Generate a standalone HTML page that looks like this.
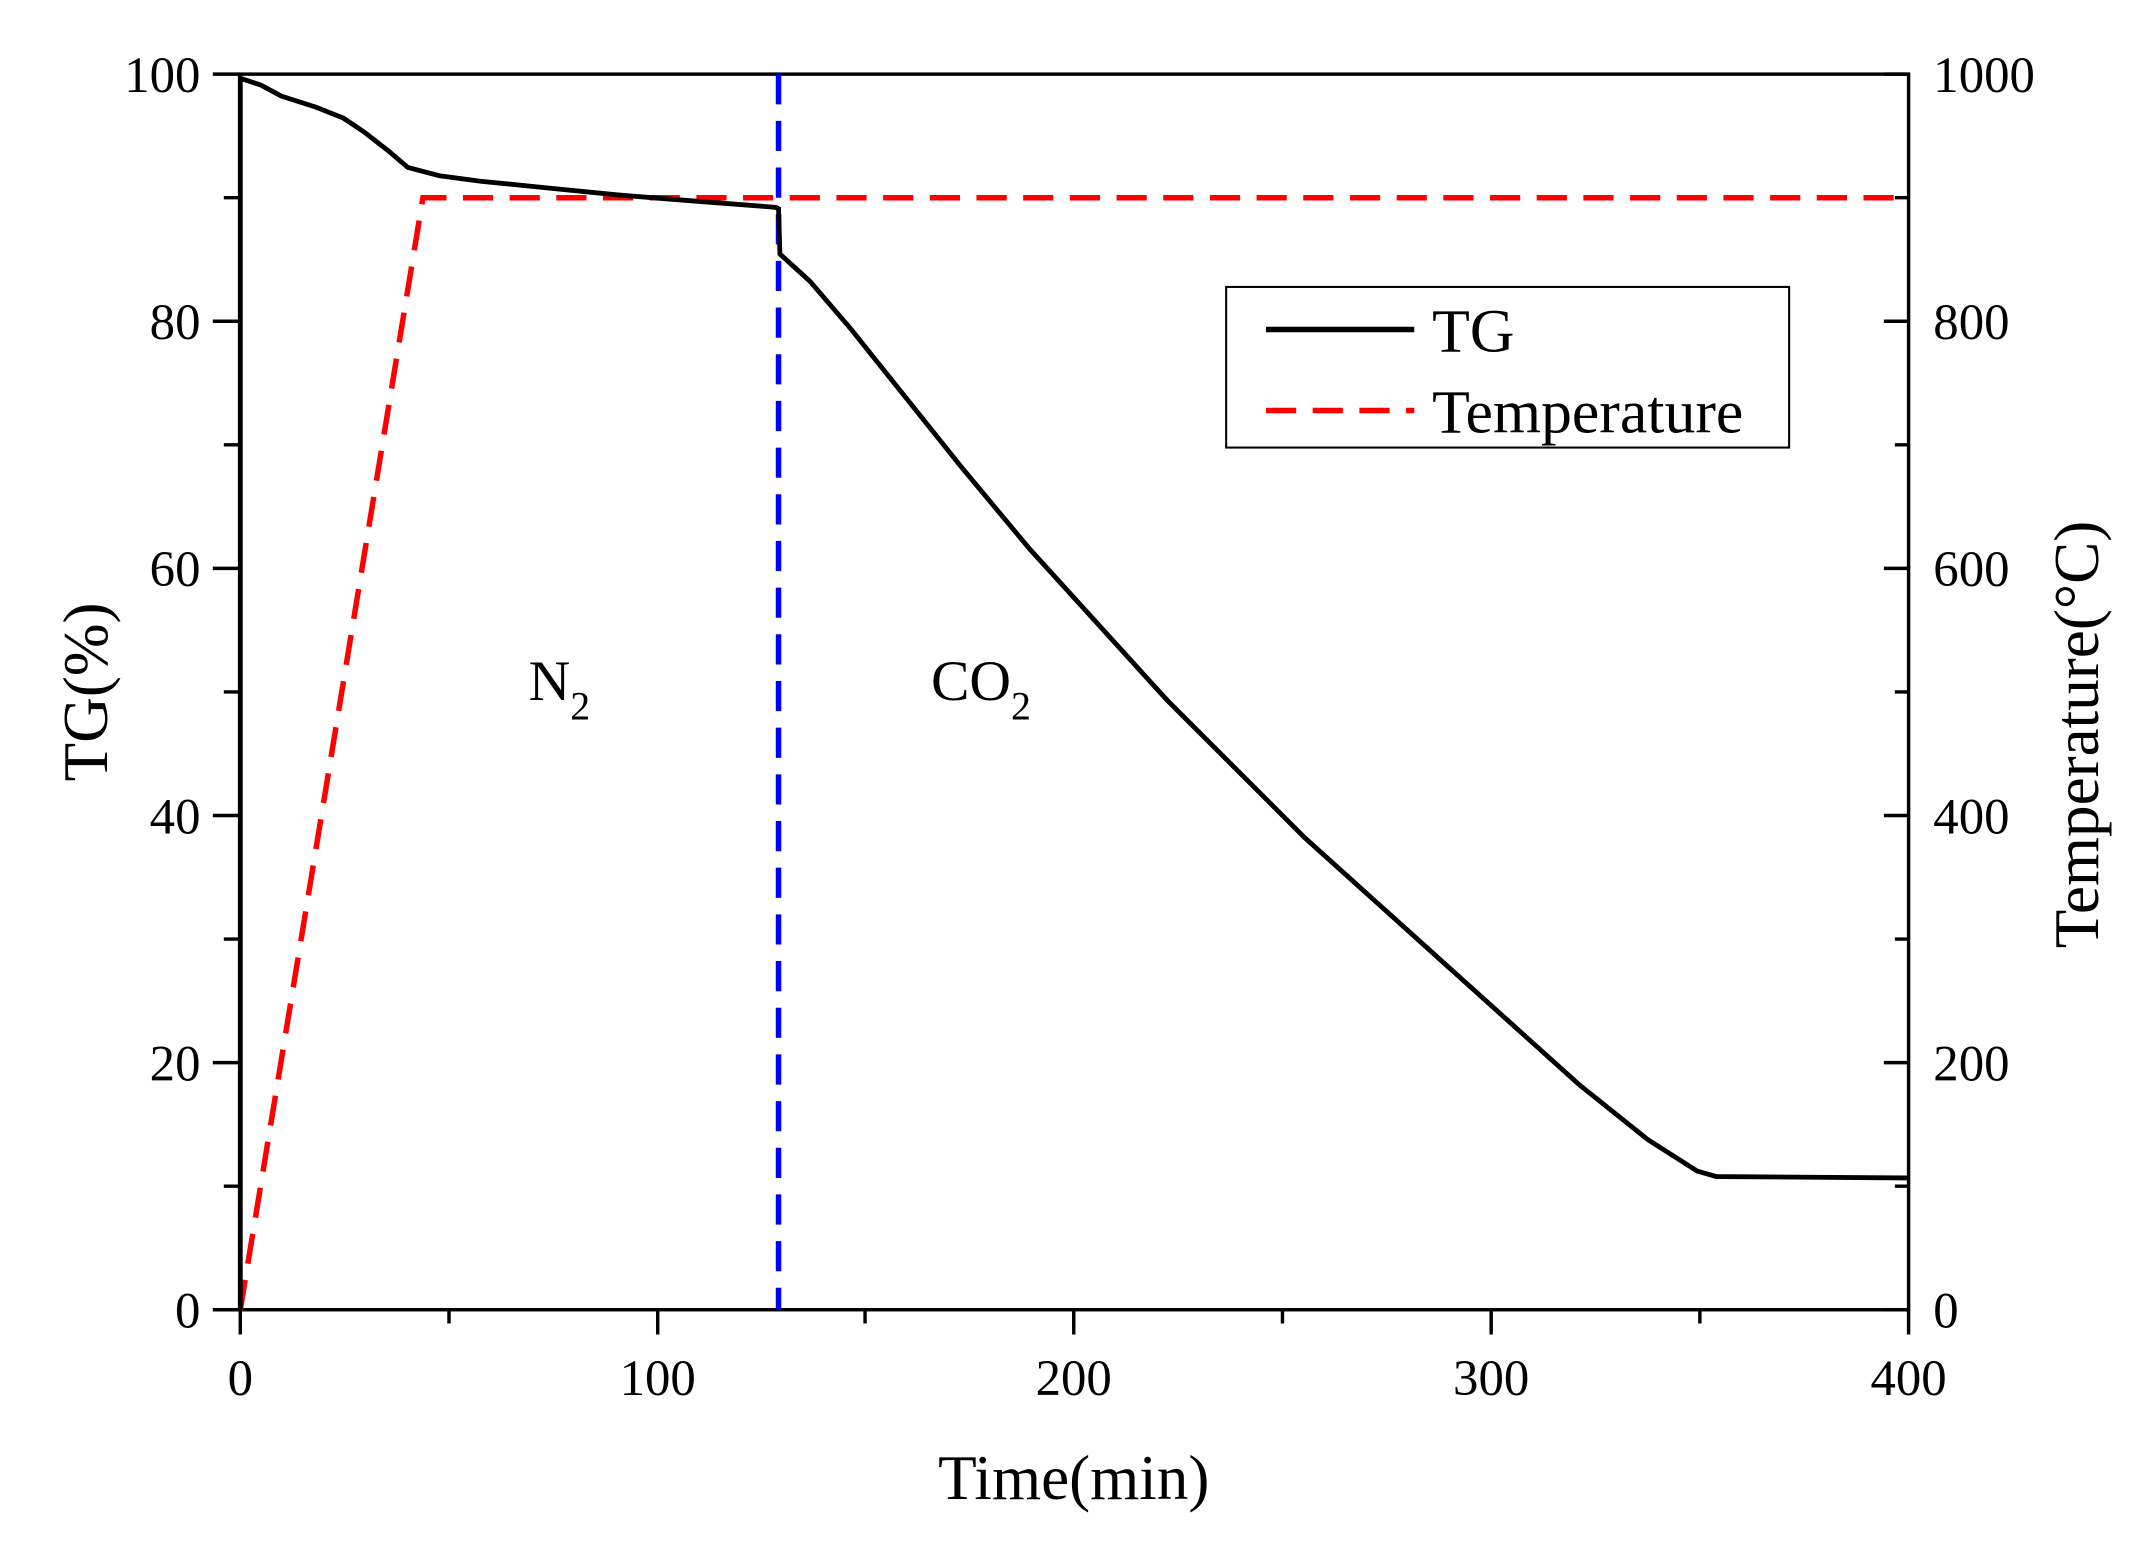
<!DOCTYPE html>
<html><head><style>html,body{margin:0;padding:0;background:#fff}svg{display:block}</style></head>
<body>
<svg width="2153" height="1550" viewBox="0 0 1568 1129" preserveAspectRatio="none" xmlns="http://www.w3.org/2000/svg" font-family="Liberation Serif, serif">
<rect width="1568" height="1129" fill="#fff"/>
<g stroke="#000" stroke-width="2.5" fill="none">
<rect x="175" y="54" width="1215" height="900"/>
<path d="M155 954H175M155 774H175M155 594H175M155 414H175M155 234H175M155 54H175M163 864H175M163 684H175M163 504H175M163 324H175M163 144H175"/>
<path d="M1372 954H1390M1372 774H1390M1372 594H1390M1372 414H1390M1372 234H1390M1372 54H1390M1380 864H1390M1380 684H1390M1380 504H1390M1380 324H1390M1380 144H1390"/>
<path d="M175 954V972M479 954V972M782 954V972M1086 954V972M1390 954V972M327 954V964M630 954V964M934 954V964M1238 954V964"/>
</g>
<g font-size="37" text-anchor="end">
<text x="146" y="967">0</text><text x="146" y="787">20</text><text x="146" y="607">40</text><text x="146" y="427">60</text><text x="146" y="247">80</text><text x="146" y="67">100</text>
</g>
<g font-size="37" text-anchor="start">
<text x="1408" y="967">0</text><text x="1408" y="787">200</text><text x="1408" y="607">400</text><text x="1408" y="427">600</text><text x="1408" y="247">800</text><text x="1408" y="67">1000</text>
</g>
<g font-size="37" text-anchor="middle">
<text x="175" y="1016">0</text><text x="479" y="1016">100</text><text x="782" y="1016">200</text><text x="1086" y="1016">300</text><text x="1390" y="1016">400</text>
</g>
<text x="782" y="1092" font-size="46" text-anchor="middle">Time(min)</text>
<text transform="translate(78,504) rotate(-90)" font-size="46" text-anchor="middle">TG(%)</text>
<text transform="translate(1528,535) rotate(-90)" font-size="46" text-anchor="middle">Temperature(°C)</text>
<text x="385" y="510" font-size="42">N<tspan font-size="29" dy="14">2</tspan></text>
<text x="678" y="510" font-size="42">CO<tspan font-size="29" dy="14">2</tspan></text>
<polyline points="175,954 308,144 1385,144" fill="none" stroke="#f00" stroke-width="4" stroke-dasharray="22,12"/>
<line x1="567" y1="54" x2="567" y2="954" stroke="#00f" stroke-width="4" stroke-dasharray="22,12"/>
<polyline fill="none" stroke="#000" stroke-width="3.5" points="175,954 175,57 190,62 205,70 230,78 250,86 265,96 283,110 297,122 320,128 350,132 400,137 450,142 500,146 565,151 567,152 568,185 590,205 620,240 660,290 700,340 750,400 800,455 850,510 900,560 950,610 1000,655 1050,700 1100,745 1150,790 1200,830 1236,853 1250,857 1390,858"/>
<rect x="893" y="209" width="410" height="117" fill="#fff" stroke="#000" stroke-width="1.5"/>
<line x1="922" y1="240" x2="1030" y2="240" stroke="#000" stroke-width="4"/>
<line x1="922" y1="299" x2="1030" y2="299" stroke="#f00" stroke-width="4" stroke-dasharray="22,12"/>
<text x="1043" y="256" font-size="45">TG</text>
<text x="1043" y="315" font-size="45">Temperature</text>
</svg>
</body></html>
